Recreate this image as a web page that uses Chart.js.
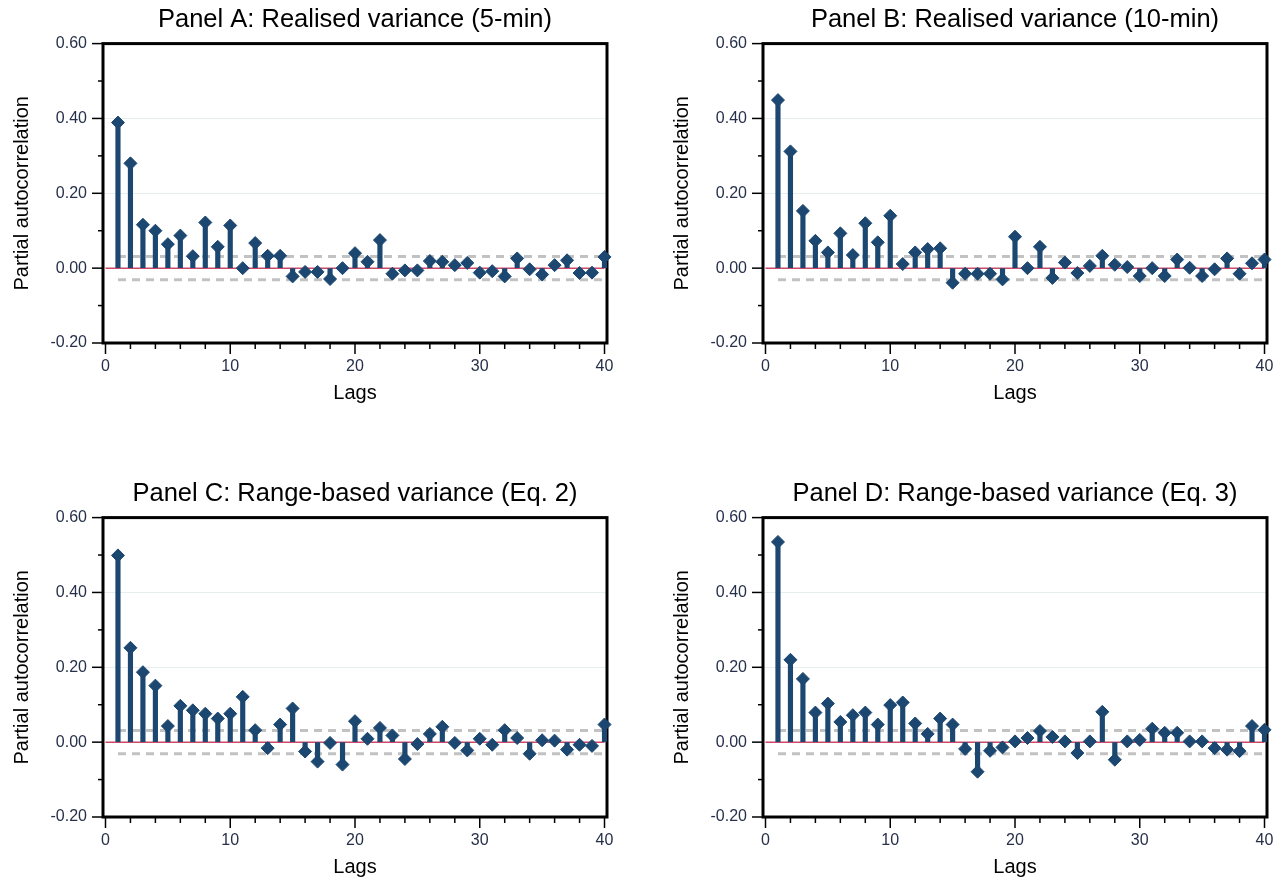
<!DOCTYPE html>
<html>
<head>
<meta charset="utf-8">
<script src="https://cdn.jsdelivr.net/npm/chart.js@4"></script>
<style>
    body { margin: 0; background: #fff; width: 1281px; height: 882px; overflow: hidden; position: relative; }
    .panel { position: absolute; width: 620px; height: 408px; }
</style>
</head>
<body>
<div class="panel" style="left: 0; top: 0;"><canvas id="panel-a" width="620" height="408"></canvas></div>
<div class="panel" style="left: 660px; top: 0;"><canvas id="panel-b" width="620" height="408"></canvas></div>
<div class="panel" style="left: 0; top: 474px;"><canvas id="panel-c" width="620" height="408"></canvas></div>
<div class="panel" style="left: 660px; top: 474px;"><canvas id="panel-d" width="620" height="408"></canvas></div>
<script>
let lags = [1, 2, 3, 4, 5, 6, 7, 8, 9, 10, 11, 12, 13, 14, 15, 16, 17, 18, 19, 20,
    21, 22, 23, 24, 25, 26, 27, 28, 29, 30, 31, 32, 33, 34, 35, 36, 37, 38, 39, 40];

let pacfA = [0.389, 0.280, 0.116, 0.100, 0.064, 0.087, 0.032, 0.122, 0.057, 0.114,
    0.000, 0.067, 0.033, 0.033, -0.022, -0.010, -0.010, -0.029, 0.000, 0.040,
    0.017, 0.075, -0.015, -0.006, -0.006, 0.019, 0.017, 0.008, 0.014, -0.012,
    -0.008, -0.022, 0.026, -0.003, -0.017, 0.008, 0.021, -0.013, -0.012, 0.030];
let pacfB = [0.449, 0.312, 0.153, 0.073, 0.042, 0.093, 0.035, 0.120, 0.069, 0.140,
    0.011, 0.042, 0.051, 0.053, -0.039, -0.015, -0.015, -0.015, -0.030, 0.084,
    0.000, 0.057, -0.026, 0.015, -0.013, 0.006, 0.033, 0.009, 0.003, -0.021,
    0.000, -0.021, 0.023, 0.001, -0.021, -0.003, 0.026, -0.015, 0.013, 0.023];
let pacfC = [0.499, 0.252, 0.187, 0.151, 0.043, 0.097, 0.085, 0.076, 0.063, 0.076,
    0.121, 0.032, -0.016, 0.047, 0.090, -0.025, -0.052, -0.002, -0.060, 0.056,
    0.009, 0.038, 0.018, -0.045, -0.005, 0.022, 0.041, -0.002, -0.022, 0.009,
    -0.007, 0.032, 0.011, -0.031, 0.005, 0.004, -0.020, -0.007, -0.010, 0.047];
let pacfD = [0.535, 0.220, 0.169, 0.079, 0.103, 0.054, 0.072, 0.079, 0.047, 0.099,
    0.106, 0.050, 0.022, 0.063, 0.047, -0.018, -0.079, -0.023, -0.014, 0.002,
    0.011, 0.030, 0.014, 0.002, -0.029, 0.002, 0.081, -0.047, 0.002, 0.006,
    0.036, 0.025, 0.025, 0.002, 0.002, -0.016, -0.020, -0.024, 0.043, 0.033];

// 95% bands (+/-) and where they run
let bands = [0.031, 0.031, 0.031, 0.031];
let bandLags = [1, 40];
let zeroLags = [0, 40];

let titles = [
    'Panel A: Realised variance (5-min)',
    'Panel B: Realised variance (10-min)',
    'Panel C: Range-based variance (Eq. 2)',
    'Panel D: Range-based variance (Eq. 3)'
];
let xTicks = [0, 2, 4, 6, 8, 10, 12, 14, 16, 18, 20, 22, 24, 26, 28, 30, 32, 34, 36, 38, 40];

let navy = '#1c4770';
let font = "'Liberation Sans', Arial, sans-serif";

// black frame + major/minor tick marks drawn off the scales
let framePlugin = {
    id: 'frame',
    beforeDatasetsDraw: function (chart) {
        let ctx = chart.ctx;
        let a = chart.chartArea;
        ctx.save();
        ctx.strokeStyle = '#000';
        ctx.lineWidth = 3;
        ctx.strokeRect(a.left, a.top, a.right - a.left, a.bottom - a.top);
        ctx.restore();
    },
    afterDraw: function (chart) {
        let ctx = chart.ctx;
        let a = chart.chartArea;
        let x = chart.scales.x;
        let y = chart.scales.y;
        ctx.save();
        ctx.strokeStyle = '#000';
        ctx.lineWidth = 1.5;
        for (let t of y.ticks) {
            let py = y.getPixelForValue(t.value);
            let major = Math.round(t.value * 10) % 2 === 0;
            ctx.beginPath();
            ctx.moveTo(a.left - (major ? 11 : 5), py);
            ctx.lineTo(a.left, py);
            ctx.stroke();
        }
        for (let t of x.ticks) {
            let px = x.getPixelForValue(t.value);
            let major = t.value % 10 === 0;
            ctx.beginPath();
            ctx.moveTo(px, a.bottom);
            ctx.lineTo(px, a.bottom + (major ? 11 : 6));
            ctx.stroke();
        }
        ctx.restore();
    }
};

function makePanel(id, title, values, band) {
    let points = lags.map(function (lag, i) { return { x: lag, y: values[i] }; });
    let zero = zeroLags.map(function (lag) { return { x: lag, y: 0 }; });
    let upper = bandLags.map(function (lag) { return { x: lag, y: band }; });
    let lower = bandLags.map(function (lag) { return { x: lag, y: -band }; });

    let bandStyle = {
        type: 'line',
        borderColor: '#c2c2c2',
        borderWidth: 3,
        borderDash: [8, 6],
        pointRadius: 0,
        order: 4
    };

    return new Chart(document.getElementById(id), {
        type: 'bar',
        data: {
            datasets: [
                Object.assign({ data: upper }, bandStyle),
                Object.assign({ data: lower }, bandStyle),
                {
                    type: 'line',
                    data: zero,
                    borderColor: '#cc4a68',
                    borderWidth: 1.5,
                    pointRadius: 0,
                    order: 3
                },
                {
                    type: 'bar',
                    data: points,
                    backgroundColor: navy,
                    barThickness: 4.5,
                    order: 2
                },
                {
                    type: 'line',
                    data: points,
                    showLine: false,
                    pointStyle: 'rectRot',
                    pointRadius: 6.5,
                    pointBackgroundColor: navy,
                    pointBorderColor: navy,
                    pointBorderWidth: 1,
                    clip: false,
                    order: 1
                }
            ]
        },
        options: {
            responsive: false,
            animation: false,
            events: [],
            devicePixelRatio: 1,
            layout: { padding: { left: 0, right: 13, top: 0, bottom: 0 } },
            plugins: {
                legend: { display: false },
                tooltip: { enabled: false },
                title: {
                    display: true,
                    text: title,
                    fullSize: false,
                    color: '#000',
                    font: { family: font, size: 25.5, weight: 'normal', lineHeight: 1.2 },
                    padding: { top: 4.5, bottom: 8.5 }
                }
            },
            scales: {
                x: {
                    type: 'linear',
                    min: -0.2,
                    max: 40.2,
                    offset: false,
                    afterBuildTicks: function (scale) {
                        scale.ticks = xTicks.map(function (v) { return { value: v }; });
                    },
                    afterFit: function (scale) { scale.height = 65; },
                    grid: { display: false, drawTicks: true, tickLength: 10 },
                    border: { display: false },
                    ticks: {
                        autoSkip: false,
                        maxRotation: 0,
                        padding: 4,
                        color: '#26304a',
                        font: { family: font, size: 16 },
                        callback: function (v) { return v % 10 === 0 ? String(v) : ''; }
                    },
                    title: {
                        display: true,
                        text: 'Lags',
                        color: '#000',
                        font: { family: font, size: 20 },
                        padding: { top: 0, bottom: 3 }
                    }
                },
                y: {
                    min: -0.2,
                    max: 0.6,
                    afterFit: function (scale) { scale.width = 103; },
                    grid: {
                        drawTicks: true,
                        tickLength: 10,
                        tickColor: 'rgba(0,0,0,0)',
                        lineWidth: 1,
                        color: function (c) {
                            let v = Math.round(c.tick.value * 10);
                            return (v === 2 || v === 4) ? '#e6eeee' : 'rgba(0,0,0,0)';
                        }
                    },
                    border: { display: false },
                    ticks: {
                        stepSize: 0.1,
                        autoSkip: false,
                        padding: 6,
                        color: '#26304a',
                        font: { family: font, size: 16 },
                        callback: function (v) {
                            return Math.round(v * 10) % 2 === 0 ? v.toFixed(2) : '';
                        }
                    },
                    title: {
                        display: true,
                        text: 'Partial autocorrelation',
                        color: '#000',
                        font: { family: font, size: 20 },
                        padding: 10
                    }
                }
            }
        },
        plugins: [framePlugin]
    });
}

makePanel('panel-a', titles[0], pacfA, bands[0]);
makePanel('panel-b', titles[1], pacfB, bands[1]);
makePanel('panel-c', titles[2], pacfC, bands[2]);
makePanel('panel-d', titles[3], pacfD, bands[3]);
</script>
</body>
</html>
